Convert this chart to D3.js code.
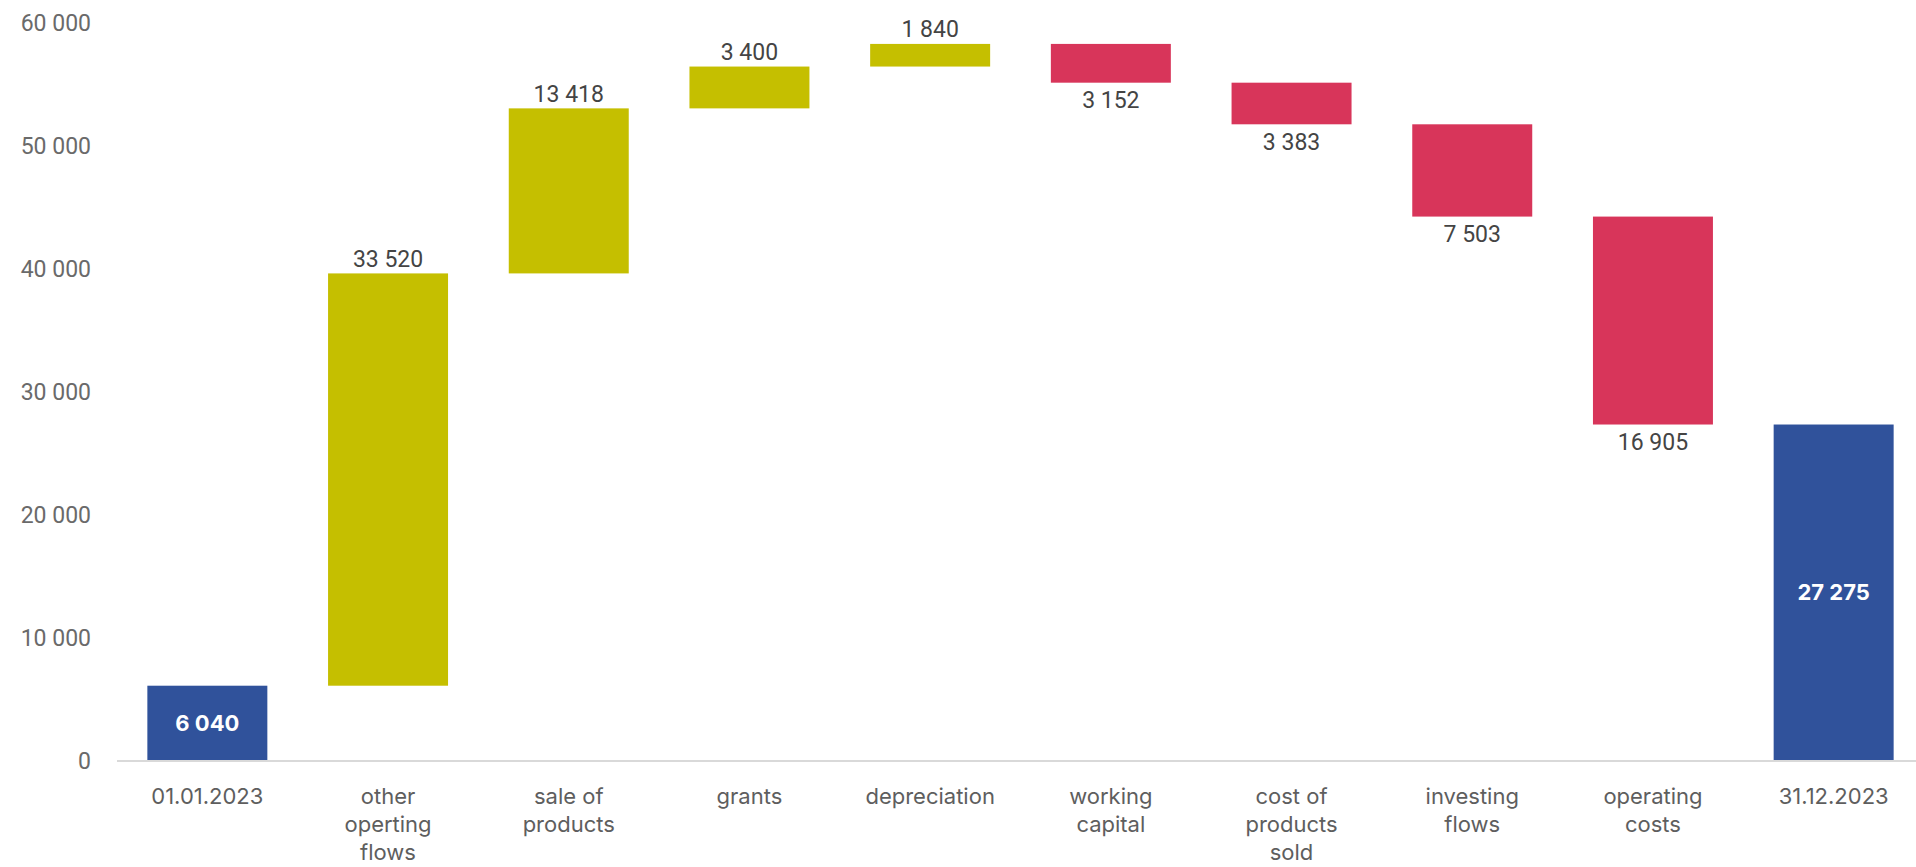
<!DOCTYPE html>
<html>
<head>
<meta charset="utf-8">
<script src="https://cdn.jsdelivr.net/npm/d3@7/dist/d3.min.js"></script>
<style>
  html, body { margin: 0; padding: 0; background: #ffffff; }
  svg { display: block; }
</style>
</head>
<body>
<svg id="chart" width="1916" height="867"></svg>
<script>
// Cash flow bridge for 2023
const categories = [
  ["01.01.2023"],
  ["other", "operting", "flows"],
  ["sale of", "products"],
  ["grants"],
  ["depreciation"],
  ["working", "capital"],
  ["cost of", "products", "sold"],
  ["investing", "flows"],
  ["operating", "costs"],
  ["31.12.2023"]
];
// "total" = standalone balance, "delta" = change stacked on the running total
const kinds  = ["total", "delta", "delta", "delta", "delta", "delta", "delta", "delta", "delta", "total"];
const values = [6040, 33520, 13418, 3400, 1840, -3152, -3383, -7503, -16905, 27275];
const yTicks = [0, 10000, 20000, 30000, 40000, 50000, 60000];

const colors = { total: "#30529b", up: "#c5bf00", down: "#d8355a" };

const svg = d3.select("#chart");
const W = 1916;
const plotLeft = 117, plotRight = 1924, plotTop = 22, plotBottom = 760;

// build floating segments
let running = 0;
const bars = values.map((v, i) => {
  let y0, y1, type;
  if (kinds[i] === "total") {
    y0 = 0; y1 = v; running = v; type = "total";
  } else {
    y0 = running; y1 = running + v; running = y1; type = v >= 0 ? "up" : "down";
  }
  return { i, v, y0, y1, type, label: categories[i] };
});

const x = d3.scaleBand()
  .domain(d3.range(categories.length))
  .range([plotLeft, plotRight])
  .paddingInner(0.336)
  .paddingOuter(0.168);

const y = d3.scaleLinear()
  .domain([0, 60000])
  .range([plotBottom, plotTop]);

const fmt = v => d3.format(",")(Math.abs(v)).replace(/,/g, " ");

// y axis labels (no line, no ticks)
const yAxis = d3.axisLeft(y)
  .tickValues(yTicks)
  .tickSize(0)
  .tickPadding(0)
  .tickFormat(fmt);

const yg = svg.append("g")
  .attr("transform", "translate(91,0)")
  .call(yAxis);
yg.select(".domain").remove();
yg.selectAll("text")
  .attr("font-family", "Roboto, sans-serif")
  .attr("font-size", 23)
  .attr("fill", "#6a6a6a")
  .attr("dy", "0.36em");

// baseline
svg.append("line")
  .attr("x1", plotLeft).attr("x2", W)
  .attr("y1", y(0) + 1).attr("y2", y(0) + 1)
  .attr("stroke", "#d9d9d9")
  .attr("stroke-width", 2);

// bars
svg.append("g").selectAll("rect")
  .data(bars)
  .join("rect")
  .attr("x", d => x(d.i))
  .attr("width", x.bandwidth())
  .attr("y", d => y(Math.max(d.y0, d.y1)))
  .attr("height", d => Math.abs(y(d.y0) - y(d.y1)))
  .attr("fill", d => colors[d.type]);

// value labels
const labels = svg.append("g");
bars.forEach(d => {
  const cx = x(d.i) + x.bandwidth() / 2;
  const t = labels.append("text")
    .attr("x", cx)
    .attr("dy", "0.36em")
    .attr("text-anchor", "middle")
    .text(fmt(d.v));
  if (d.type === "total") {
    t.attr("y", (y(d.y0) + y(d.y1)) / 2)
      .attr("font-family", "Inter, sans-serif")
      .attr("font-weight", 700)
      .attr("font-size", 22)
      .attr("fill", "#ffffff");
  } else {
    t.attr("y", d.type === "up" ? y(d.y1) - 15 : y(d.y1) + 17)
      .attr("font-family", "Roboto, sans-serif")
      .attr("font-size", 23)
      .attr("fill", "#444444");
  }
});

// category labels
const xl = svg.append("g");
bars.forEach(d => {
  const cx = x(d.i) + x.bandwidth() / 2;
  const t = xl.append("text")
    .attr("x", cx)
    .attr("y", 804)
    .attr("text-anchor", "middle")
    .attr("font-family", "Inter, sans-serif")
    .attr("font-size", 22)
    .attr("fill", "#5e5e5e");
  d.label.forEach((line, k) => {
    t.append("tspan")
      .attr("x", cx)
      .attr("dy", k === 0 ? 0 : 28)
      .text(line);
  });
});
</script>
</body>
</html>
